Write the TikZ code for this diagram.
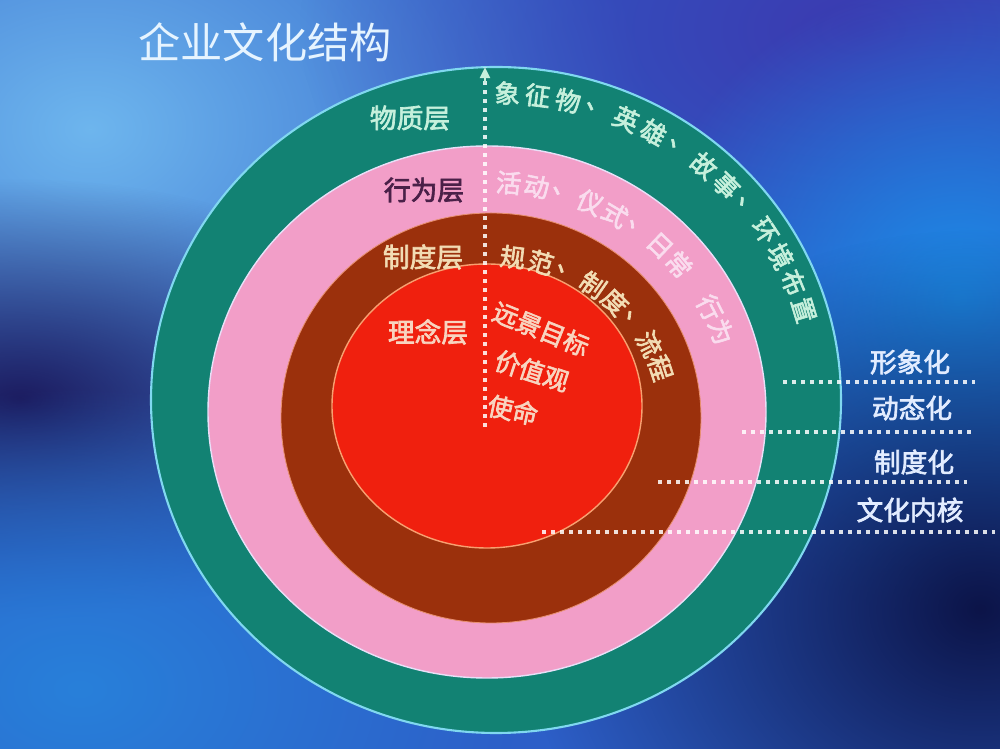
\documentclass[tikz,border=0pt]{standalone}
\usepackage{fontspec}
\newfontfamily\cjk{Noto Sans CJK SC}
\newfontfamily\cjkbold[FakeBold=2.5]{Noto Sans CJK SC}
\usetikzlibrary{fadings,arrows.meta}
\tikzfading[name=blobfade, inner color=transparent!0, outer color=transparent!100]

\definecolor{bgbase}{RGB}{45,95,200}
\definecolor{bglight}{RGB}{110,182,238}
\definecolor{bgpurple}{RGB}{60,58,176}
\definecolor{bgnavy}{RGB}{28,28,96}
\definecolor{bgbright}{RGB}{28,140,232}
\definecolor{bgdeep}{RGB}{12,20,72}
\definecolor{bgsky}{RGB}{40,128,218}
\definecolor{ringteal}{RGB}{18,130,115}
\definecolor{ringpink}{RGB}{242,158,200}
\definecolor{ringbrown}{RGB}{155,48,12}
\definecolor{ringred}{RGB}{240,32,14}
\definecolor{tealedge}{RGB}{128,216,240}
\definecolor{pinkedge}{RGB}{232,224,248}
\definecolor{brownedge}{RGB}{232,144,112}
\definecolor{rededge}{RGB}{248,160,112}
\definecolor{minttext}{RGB}{198,240,220}
\definecolor{purpletext}{RGB}{74,32,72}
\definecolor{pinktext}{RGB}{250,220,238}
\definecolor{beigetext}{RGB}{242,220,180}
\definecolor{peachtext}{RGB}{248,212,192}
\definecolor{sidetext}{RGB}{226,236,255}
\definecolor{titlecol}{RGB}{230,244,255}

\tikzset{
  titletext/.style = {inner sep=0pt, text=titlecol,
    font=\cjk\fontsize{30}{34}\selectfont},
  layerlabel/.style = {inner sep=0pt,
    font=\cjkbold\fontsize{19}{22}\selectfont},
  arcchar/.style = {inner sep=0pt,
    font=\cjkbold\fontsize{18}{20}\selectfont},
  sidelabel/.style = {inner sep=0pt, text=sidetext,
    font=\cjkbold\fontsize{19}{22}\selectfont},
  dotline/.style = {draw=white, opacity=.85, line width=2.6pt,
    dash pattern=on 2.6pt off 3.8pt}
}

\begin{document}
\begin{tikzpicture}[x=0.025cm, y=0.025cm]
  \useasboundingbox (0,0) rectangle (1000,749);
  % background
  \fill[bgbase] (0,0) rectangle (1000,749);
  \begin{scope}
    \clip (0,0) rectangle (1000,749);
    \fill[bglight, path fading=blobfade] (90,620) ellipse (560 and 420);
    \fill[bgpurple, path fading=blobfade] (860,720) ellipse (560 and 320);
    \fill[bgnavy, path fading=blobfade] (20,350) ellipse (420 and 220);
    \fill[bgbright, path fading=blobfade] (960,450) ellipse (320 and 320);
    \fill[bgdeep, path fading=blobfade] (980,140) ellipse (460 and 380);
    \fill[bgsky, path fading=blobfade] (80,60) ellipse (440 and 300);
  \end{scope}

  % rings
  \filldraw[fill=ringteal, draw=tealedge, line width=1.5pt] (496,349) ellipse (345 and 333);
  \filldraw[fill=ringpink, draw=pinkedge, line width=1pt] (487,337) ellipse (279 and 266);
  \filldraw[fill=ringbrown, draw=brownedge, line width=.6pt] (491,331) ellipse (210 and 205);
  \filldraw[fill=ringred, draw=rededge, line width=1pt] (487,343) ellipse (155 and 142);

  % title
  \node[titletext] (title) at (265,707) {企业文化结构};

  % layer names
  \node[layerlabel, text=minttext] (wuzhi) at (410,631) {物质层};
  \node[layerlabel, text=purpletext] (xingwei) at (424,559) {行为层};
  \node[layerlabel, text=beigetext] (zhidu) at (423,492) {制度层};
  \node[layerlabel, text=peachtext] (linian) at (428,417) {理念层};

  % texts along the rings
  \foreach \ch [count=\i] in {象,征,物,、,英,雄,、,故,事,、,环,境,布,置} {
    \pgfmathsetmacro\ang{88-(\i-1)*5.46}
    \node[arcchar, text=minttext, rotate=\ang-90] (sym\i)
      at ({496+322*cos(\ang)},{349+307*sin(\ang)}) {\ch};
  }
  \foreach \ch [count=\i] in {活,动,、,仪,式,、,日,常,{},行,为} {
    \pgfmathsetmacro\ang{85-(\i-1)*6.45}
    \node[arcchar, text=pinktext, rotate=\ang-90] (act\i)
      at ({487+250*cos(\ang)},{337+230*sin(\ang)}) {\ch};
  }
  \foreach \ch [count=\i] in {规,范,、,制,度,、,流,程} {
    \pgfmathsetmacro\ang{83-(\i-1)*9.29}
    \node[arcchar, text=beigetext, rotate=\ang-90] (rule\i)
      at ({491+178*cos(\ang)},{331+162*sin(\ang)}) {\ch};
  }

  % core texts
  \node[arcchar, text=peachtext, rotate=-22] (vision) at (541,420) {远景目标};
  \node[arcchar, text=peachtext, rotate=-18] (values) at (532,378) {价值观};
  \node[arcchar, text=peachtext, rotate=-12] (mission) at (513,339) {使命};

  % axis
  \coordinate (axisbot) at (485,322);
  \coordinate (axistop) at (485,682);
  \draw[dotline] (axisbot) -- (axistop);
  \draw[draw=minttext, line width=2pt, -{Triangle[width=7pt,length=8pt]}]
    (485,666) -- (axistop);

  % levels on the right
  \node[sidelabel] (image) at (910,387) {形象化};
  \node[sidelabel] (dynamic) at (912,341) {动态化};
  \node[sidelabel] (system) at (914,287) {制度化};
  \node[sidelabel] (core) at (910,239) {文化内核};

  \coordinate (cutA0) at (783,367);  \coordinate (cutA1) at (975,367);
  \coordinate (cutB0) at (742,317);  \coordinate (cutB1) at (972,317);
  \coordinate (cutC0) at (658,267);  \coordinate (cutC1) at (967,267);
  \coordinate (cutD0) at (542,217);  \coordinate (cutD1) at (995,217);
  \draw[dotline] (cutA0) -- (cutA1);
  \draw[dotline] (cutB0) -- (cutB1);
  \draw[dotline] (cutC0) -- (cutC1);
  \draw[dotline] (cutD0) -- (cutD1);
\end{tikzpicture}
\end{document}
